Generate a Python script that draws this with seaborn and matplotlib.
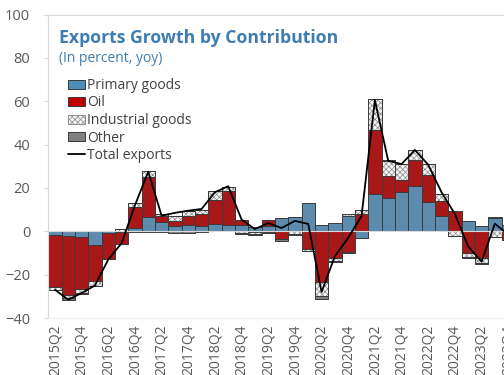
import numpy as np
import pandas as pd
import matplotlib
matplotlib.use("Agg")
import matplotlib.pyplot as plt
from matplotlib.patches import Patch
from matplotlib.lines import Line2D
import seaborn as sns

# Quarterly export growth contributions (percentage points, yoy)
quarters = [
    "2015Q2", "2015Q3", "2015Q4", "2016Q1", "2016Q2", "2016Q3", "2016Q4",
    "2017Q1", "2017Q2", "2017Q3", "2017Q4", "2018Q1", "2018Q2", "2018Q3",
    "2018Q4", "2019Q1", "2019Q2", "2019Q3", "2019Q4", "2020Q1", "2020Q2",
    "2020Q3", "2020Q4", "2021Q1", "2021Q2", "2021Q3", "2021Q4", "2022Q1",
    "2022Q2", "2022Q3", "2022Q4", "2023Q1", "2023Q2", "2023Q3", "2023Q4",
]
primary = [-1.5, -2.3, -2.8, -6.5, -0.8, -0.5, 1.5, 6.5, 4.2, 2.3, 2.8, 2.3,
           3.4, 3.1, 2.8, 1.8, 2.6, 6.0, 6.6, 13.0, 2.9, 3.6, 7.0, -3.0,
           17.0, 15.2, 18.0, 20.8, 13.4, 6.9, 0.0, 4.6, 2.3, 6.2, 3.0]
oil = [-24.0, -27.0, -24.0, -16.6, -12.0, -5.3, 9.7, 18.5, 3.0, 2.6, 4.4, 5.7,
       11.2, 15.4, 2.6, -0.3, 2.5, -3.6, 0.0, -8.3, -23.5, -12.3, -9.5, 8.0,
       29.5, 10.5, 5.8, 12.2, 12.6, 7.3, 9.5, -10.0, -12.3, 0.0, -3.8]
industrial = [-1.5, -1.6, -1.6, -2.0, 0.0, 1.0, 1.8, 3.0, 0.8, 2.3, 2.3, 2.0,
              3.9, 2.0, -0.8, -1.0, -0.3, 0.0, -1.3, -0.7, -6.2, -1.2, 1.0, 2.0,
              14.3, 6.5, 7.2, 4.7, 5.0, 3.0, -2.0, -1.8, -2.3, -2.5, 0.0]
other = [-0.3, -0.7, -0.3, -0.3, -0.2, 0.0, -0.5, -0.3, -0.5, -1.0, -0.8, -0.3,
         0.0, 0.0, -0.3, -0.5, -0.5, -0.9, -0.2, -0.3, -1.5, -0.7, -0.4, -0.3,
         0.0, 0.6, 0.0, 0.0, 0.0, 0.0, -0.3, -0.3, -0.5, 0.3, -0.3]
total = [-27.0, -31.5, -28.5, -25.0, -13.0, -5.5, 12.0, 27.5, 7.2, 8.5, 9.5,
         10.3, 18.0, 20.8, 5.4, 1.0, 3.8, 1.5, 4.8, 3.4, -28.0, -11.5, -3.0,
         7.0, 60.5, 32.5, 31.0, 37.5, 30.7, 18.0, 8.0, -7.0, -14.0, 3.5, -1.5]
tick_labels = quarters[::2]

series_names = ["Primary goods", "Oil", "Industrial goods", "Other"]
series_vals = [primary, oil, industrial, other]

BLUE = "#4F8DBA"
RED = "#C00000"
GRAY = "#808080"
EDGE = "#3a3a3a"
TEXT = "#595959"
TITLE = "#3E7CB1"

sns.set_theme(style="white")
plt.rcParams["font.family"] = ["Open Sans", "DejaVu Sans"]
plt.rcParams["hatch.linewidth"] = 0.5

fig = plt.figure(figsize=(5.04, 3.75), dpi=100)
n_slots = 37
ax = fig.add_axes([48.3 / 504, 57 / 375, n_slots * 13.33 / 504, 303.5 / 375])

df = pd.DataFrame({"quarter": quarters})
pos_base = np.zeros(len(quarters))
neg_base = np.zeros(len(quarters))

styles = {
    "Primary goods": dict(color=BLUE, edgecolor=EDGE),
    "Oil": dict(color=RED, edgecolor=EDGE),
    "Industrial goods": dict(color="#f4f4f4", edgecolor="#8c8c8c", hatch="xxxxxx"),
    "Other": dict(color=GRAY, edgecolor=EDGE),
}

for name, vals in zip(series_names, series_vals):
    v = np.asarray(vals, dtype=float)
    base = np.where(v >= 0, pos_base, neg_base)
    df["value"] = v
    st = styles[name]
    sns.barplot(data=df, x="quarter", y="value", order=quarters, width=1.0,
                bottom=base, linewidth=0.7, ax=ax, errorbar=None,
                **st)
    if name == "Industrial goods":
        # crisp outline drawn over the hatched fill
        sns.barplot(data=df, x="quarter", y="value", order=quarters, width=1.0,
                    bottom=base, fill=False, linewidth=0.7, color=EDGE,
                    ax=ax, errorbar=None)
    pos_base = pos_base + np.where(v > 0, v, 0)
    neg_base = neg_base + np.where(v < 0, v, 0)

ax.axhline(0, color="#d9d9d9", lw=0.8, zorder=3)

sns.lineplot(x=np.arange(len(quarters)), y=total, color="black", lw=1.3,
             ax=ax, zorder=4)

ax.set_xlim(-0.5, n_slots - 0.5)
ax.set_ylim(-40, 100)
ax.set_yticks(np.arange(-40, 101, 20))
ax.set_xticks(np.arange(0, len(quarters), 2))
ax.set_xticklabels(tick_labels, rotation=90, va="top", ha="center")
ax.set_xlabel("")
ax.set_ylabel("")
ax.tick_params(axis="y", labelsize=10.5, labelcolor=TEXT, color="#d9d9d9",
               length=3, width=0.8, left=True, direction="out", pad=10)
ax.tick_params(axis="x", labelsize=10, labelcolor=TEXT, length=0, pad=5)
for side in ["left", "top", "bottom", "right"]:
    ax.spines[side].set_visible(True)
    ax.spines[side].set_color("#d9d9d9")
    ax.spines[side].set_linewidth(0.8)
ax.spines["bottom"].set_color("#f0f0f0")

fig.text(59 / 504, 1 - 38 / 375, "Exports Growth by Contribution", color=TITLE,
         fontsize=12.7, fontweight="bold", va="center", ha="left")
fig.text(59 / 504, 1 - 59 / 375, "(In percent, yoy)", color=TITLE,
         fontsize=10, va="center", ha="left")

handles = [
    Patch(facecolor=BLUE, edgecolor=EDGE, linewidth=0.7),
    Patch(facecolor=RED, edgecolor=EDGE, linewidth=0.7),
    Patch(facecolor="#f4f4f4", edgecolor="#8c8c8c", hatch="xxxxxx", linewidth=0.7),
    Patch(facecolor=GRAY, edgecolor=EDGE, linewidth=0.7),
    Line2D([0], [0], color="black", lw=1.3),
]
leg = ax.legend(handles, series_names + ["Total exports"], loc="upper left",
                bbox_to_anchor=(68 / 504, 1 - 78 / 375),
                bbox_transform=fig.transFigure, frameon=False, fontsize=10,
                handlelength=1.2, handleheight=0.6, handletextpad=0.15,
                labelspacing=0.18, borderaxespad=0, borderpad=0)
for t in leg.get_texts():
    t.set_color("#404040")

fig.savefig("out.png", dpi=100)
